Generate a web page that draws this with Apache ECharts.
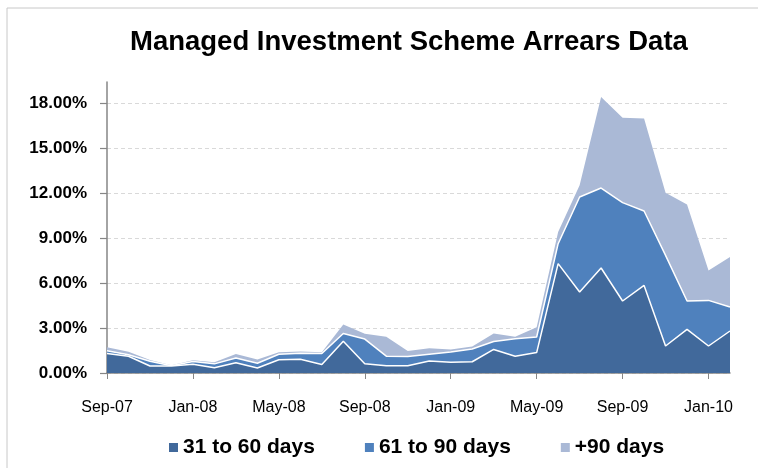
<!DOCTYPE html>
<html>
<head>
<meta charset="utf-8">
<script src="https://cdn.jsdelivr.net/npm/echarts@6/dist/echarts.min.js"></script>
<style>
  html, body { margin: 0; padding: 0; background: #fff; }
  #chart { width: 758px; height: 468px; }
</style>
</head>
<body>
<div id="chart"></div>
<script>
// monthly arrears, percent of book
const months = [
  'Sep-07', 'Oct-07', 'Nov-07', 'Dec-07', 'Jan-08', 'Feb-08', 'Mar-08', 'Apr-08',
  'May-08', 'Jun-08', 'Jul-08', 'Aug-08', 'Sep-08', 'Oct-08', 'Nov-08', 'Dec-08',
  'Jan-09', 'Feb-09', 'Mar-09', 'Apr-09', 'May-09', 'Jun-09', 'Jul-09', 'Aug-09',
  'Sep-09', 'Oct-09', 'Nov-09', 'Dec-09', 'Jan-10', 'Feb-10'
]
const days31to60 = [
  1.30, 1.12, 0.47, 0.47, 0.58, 0.35, 0.68, 0.33, 0.88, 0.91, 0.57, 2.12, 0.62, 0.48, 0.48,
  0.80, 0.72, 0.75, 1.57, 1.12, 1.36, 7.29, 5.40, 7.00, 4.80, 5.84, 1.80, 2.91, 1.80, 2.80
]
const days61to90 = [
  0.18, 0.10, 0.31, 0.01, 0.19, 0.26, 0.32, 0.32, 0.37, 0.41, 0.73, 0.51, 1.64, 0.64, 0.62,
  0.45, 0.68, 0.85, 0.53, 1.16, 1.04, 1.33, 6.33, 5.33, 6.56, 4.96, 6.04, 1.89, 3.04, 1.60
]
const days90plus = [
  0.24, 0.19, 0.08, 0.04, 0.08, 0.11, 0.26, 0.25, 0.13, 0.12, 0.08, 0.60, 0.35, 1.30, 0.36,
  0.40, 0.17, 0.16, 0.53, 0.13, 0.65, 0.78, 0.78, 6.07, 5.66, 6.16, 4.18, 6.44, 2.00, 3.33
]

const FONT = 'Liberation Sans'
const colors = ['#41699b', '#4f81bd', '#aab9d6']
const grid = '#d9d9d9'

function areaSeries(name, data, idx) {
  return {
    name: name,
    type: 'line',
    stack: 'total',
    data: data,
    symbol: 'none',
    z: 5 - idx,
    lineStyle: { color: '#fff', width: idx === 2 ? 0 : 1.5 },
    areaStyle: { color: colors[idx], opacity: 1 },
    itemStyle: { color: colors[idx] }
  }
}

const chart = echarts.init(document.getElementById('chart'))
chart.setOption({
  animation: false,
  title: {
    text: 'Managed Investment Scheme Arrears Data',
    left: 125,
    top: 23,
    textStyle: { fontFamily: FONT, fontSize: 27.5, fontWeight: 'bold', color: '#000' }
  },
  graphic: [{
    type: 'rect',
    shape: { x: 7, y: 8, width: 800, height: 500 },
    style: { fill: 'none', stroke: '#c8c8c8', lineWidth: 1 },
    silent: true
  }],
  legend: {
    left: 164,
    top: 432,
    icon: 'rect',
    itemWidth: 9,
    itemHeight: 9,
    itemGap: 50,
    textStyle: { fontFamily: FONT, fontSize: 21, fontWeight: 'bold', color: '#000' },
    data: ['31 to 60 days', '61 to 90 days', '+90 days']
  },
  grid: { left: 107, right: 28, top: 82, bottom: 95 },
  xAxis: {
    type: 'category',
    data: months,
    boundaryGap: false,
    axisLine: { lineStyle: { color: '#868686', width: 1.5 } },
    axisTick: { interval: 3, length: 6, lineStyle: { color: '#868686' } },
    axisLabel: { interval: 3, margin: 27, fontFamily: FONT, fontSize: 16, color: '#000' },
    splitLine: { show: false }
  },
  yAxis: {
    type: 'value',
    min: 0,
    max: 19.4,
    interval: 3,
    axisLine: { show: true, lineStyle: { color: '#868686', width: 1.5 } },
    axisTick: { show: true, length: 7, lineStyle: { color: '#868686', width: 1.2 } },
    axisLabel: {
      showMaxLabel: false,
      margin: 20,
      fontFamily: FONT,
      fontSize: 17,
      fontWeight: 'bold',
      color: '#000',
      formatter: v => v.toFixed(2) + '%'
    },
    splitLine: {
      lineStyle: {
        type: [4, 3],
        color: [grid, grid, grid, grid, grid, grid, grid, 'rgba(0,0,0,0)']
      }
    }
  },
  series: [
    areaSeries('31 to 60 days', days31to60, 0),
    areaSeries('61 to 90 days', days61to90, 1),
    areaSeries('+90 days', days90plus, 2)
  ]
})
</script>
</body>
</html>
